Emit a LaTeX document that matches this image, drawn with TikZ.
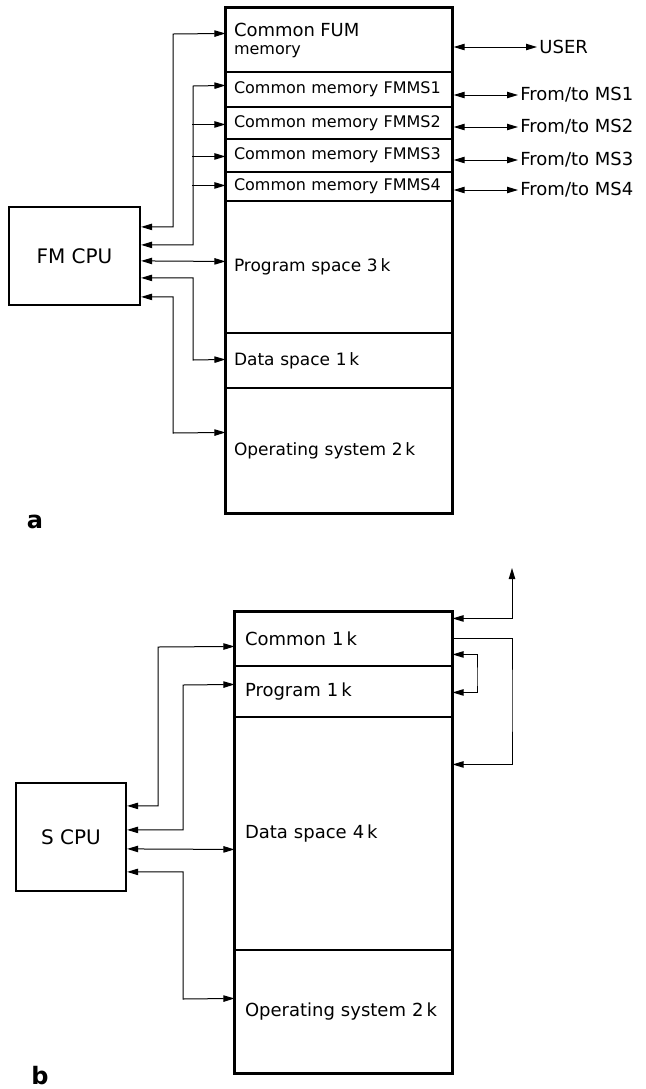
\documentclass[tikz,border=0pt]{standalone}
\usepackage{fontspec}
\setmainfont{DejaVu Sans}
\usetikzlibrary{arrows.meta,positioning,fit,calc}
\tikzset{sa/.style={draw,line width=.55pt,inner xsep=4pt,inner ysep=0pt,minimum width=113pt,text width=105pt,align=left,font=\fontsize{8}{9}\selectfont},
 sb/.style={draw,line width=.55pt,inner xsep=5pt,inner ysep=0pt,minimum width=108.5pt,text width=98.5pt,align=left,font=\fontsize{9}{11}\selectfont},
 cpu/.style={draw,line width=1.1pt,font=\fontsize{10}{12}\selectfont},
 outer/.style={draw,line width=1.1pt,inner sep=0pt},
 both/.style={{Triangle[length=5.5pt,width=3.2pt]}-{Triangle[length=5.5pt,width=3.2pt]},line width=.5pt},
 one/.style={-{Triangle[length=5.5pt,width=3.2pt]},line width=.5pt},
 lbl/.style={anchor=west,font=\fontsize{9}{11}\selectfont,inner sep=1pt},
 tag/.style={anchor=base,font=\fontsize{12}{14}\bfseries\selectfont}}
\begin{document}
\begin{tikzpicture}[x=0.5pt,y=-0.5pt]
\useasboundingbox (0,0) rectangle (645,1089);
% (a) FM memory map
\node[sa,minimum height=32pt](fum) at (339,40){{\fontsize{9}{11}\selectfont Common FUM}\\memory};
\node[sa,minimum height=17.5pt](ms1) at (339,89.5){Common memory FMMS1};
\node[sa,minimum height=16pt](ms2) at (339,123){Common memory FMMS2};
\node[sa,minimum height=16.5pt](ms3) at (339,155.5){Common memory FMMS3};
\node[sa,minimum height=14.5pt](ms4) at (339,186.5){Common memory FMMS4};
\node[sa,minimum height=66pt,font=\fontsize{8.5}{10}\selectfont](pra) at (339,267){Program space 3\,k};
\node[sa,minimum height=27.5pt,font=\fontsize{8.5}{10}\selectfont](daa) at (339,360.5){Data space 1\,k};
\node[sa,minimum height=62.5pt,font=\fontsize{8.5}{10}\selectfont](osa) at (339,450.5){Operating system 2\,k};
\node[outer,fit=(fum)(osa)](mema){};
\node[cpu,minimum width=65.5pt,minimum height=49pt](cpua) at (74.5,256){FM CPU};
\node[lbl](user) at (537,47){USER};
\node[lbl](to1) at (518,95){From/to MS1};
\node[lbl](to2) at (518,127){From/to MS2};
\node[lbl](to3) at (518,160){From/to MS3};
\node[lbl](to4) at (518,190){From/to MS4};
\foreach \t in {user,to1,to2,to3,to4}
  \draw[both](\t.west -| mema.east)--(\t.west);
\draw[both]($(cpua.north east)+(0,21)$) -| (173,34) -- ($(fum.north west)+(0,26)$);
\draw[both]($(cpua.north east)+(0,39)$) -| (193,86) -- ($(ms1.north west)+(0,14)$);
\foreach \s/\d in {ms2/18,ms3/18,ms4/14}
  \draw[one]($(\s.north west)+(-33,\d)$) -- ($(\s.north west)+(0,\d)$);
\draw[both]($(cpua.north east)+(0,55)$) -- ($(pra.north west)+(0,61)$);
\draw[both]($(cpua.north east)+(0,72)$) -| (193,360) -- ($(daa.north west)+(0,27)$);
\draw[both]($(cpua.north east)+(0,91)$) -| (173,433) -- ($(osa.north west)+(0,45)$);
\node[tag](taga) at (35,528){a};
% (b) S memory map
\node[sb,minimum height=27pt](comb) at (343.5,639){Common 1\,k};
\node[sb,minimum height=25.5pt](prb) at (343.5,691.5){Program 1\,k};
\node[sb,minimum height=116.5pt](dab) at (343.5,833.5){Data space 4\,k};
\node[sb,minimum height=61.5pt](osb) at (343.5,1011.5){Operating system 2\,k};
\node[outer,fit=(comb)(osb)](memb){};
\node[cpu,minimum width=55pt,minimum height=54pt](cpub) at (71,837){S CPU};
\draw[both]($(cpub.north east)+(0,24)$) -| (158,647) -- ($(comb.north west)+(0,35)$);
\draw[both]($(cpub.north east)+(0,48)$) -| (183,685) -- ($(prb.north west)+(0,19)$);
\draw[both]($(cpub.north east)+(0,67)$) -- ($(dab.north west)+(0,133)$);
\draw[both]($(cpub.north east)+(0,90)$) -| (183,999) -- ($(osb.north west)+(0,49)$);
\coordinate(out) at (512,568);
\draw[both]($(comb.north east)+(0,7)$) -| (out);
\draw[one]($(comb.north east)+(0,27)$) -| (512,700) |- ($(dab.north east)+(0,48)$);
\draw[both]($(comb.north east)+(0,43)$) -| (477,680) |- ($(prb.north east)+(0,27)$);
\node[tag](tagb) at (40,1084){b};
\end{tikzpicture}
\end{document}
